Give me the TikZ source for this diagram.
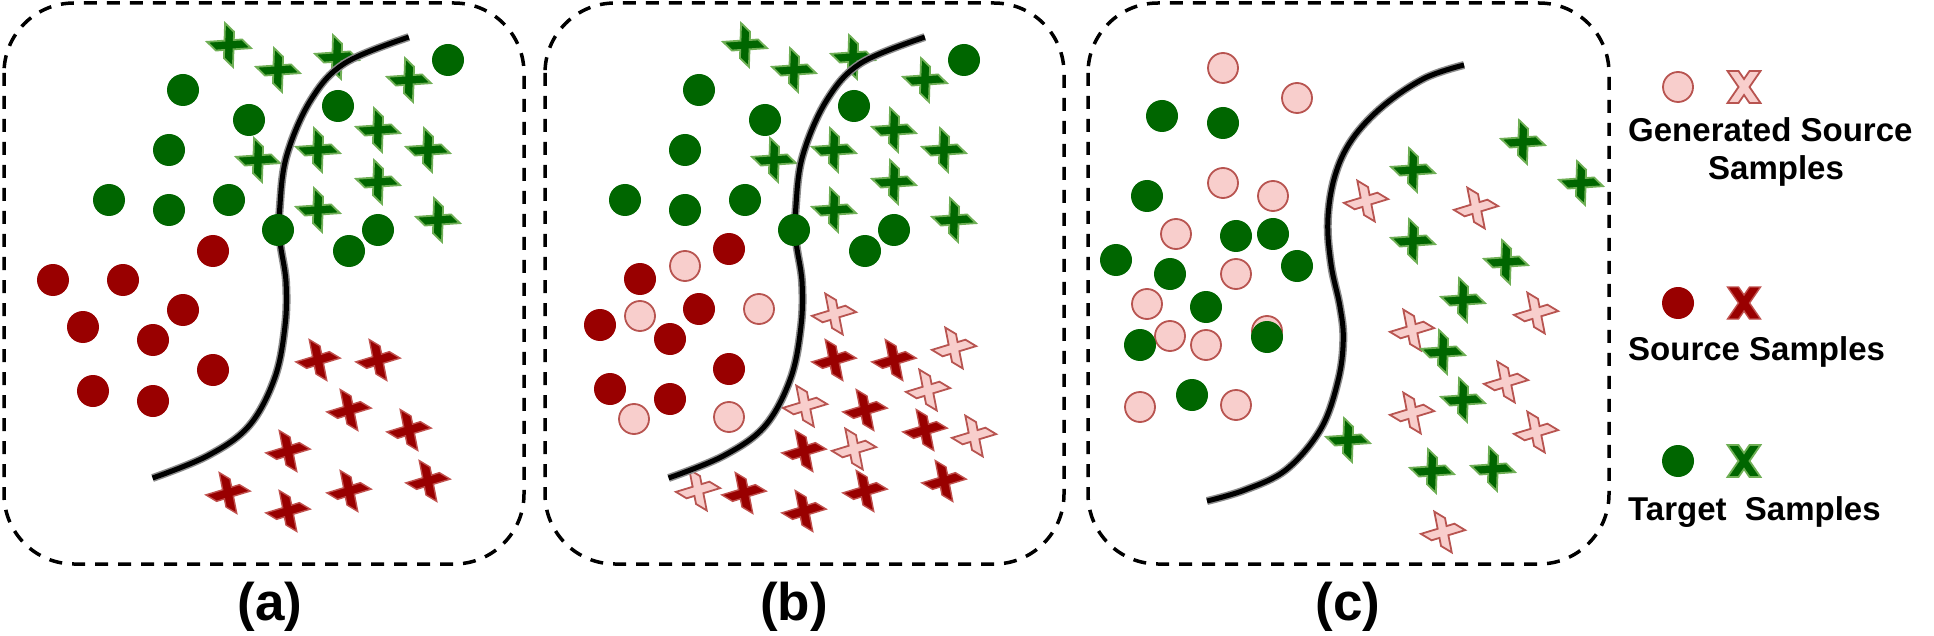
\documentclass[tikz,border=0pt]{standalone}
\usepackage{fontspec}
\setmainfont{Liberation Sans}
\definecolor{tgreen}{HTML}{006600}
\definecolor{tgreenedge}{HTML}{6FAF55}
\definecolor{sred}{HTML}{990000}
\definecolor{sredge}{HTML}{C0504D}
\definecolor{gpink}{HTML}{F8CECC}
\definecolor{gpinkedge}{HTML}{B85450}
\definecolor{halo}{HTML}{8C8C8C}
\tikzset{
  xmark/.pic={\path[pic actions] (-18,-13) -- (-5.5,-13) -- (0,-6.9) -- (5.5,-13) -- (18,-13) -- (6.25,0) -- (18,13) -- (5.5,13) -- (0,6.9) -- (-5.5,13) -- (-18,13) -- (-6.25,0) -- cycle;},
  xlegend/.pic={\path[pic actions] (-16.5,-16) -- (-5.5,-16) -- (0,-8) -- (5.5,-16) -- (16.5,-16) -- (5.5,0) -- (16.5,16) -- (5.5,16) -- (0,8) -- (-5.5,16) -- (-16.5,16) -- (-5.5,0) -- cycle;},
}
\begin{document}
\begin{tikzpicture}[x=1pt,y=-1pt,
  dot/.style={circle, minimum size=32pt, inner sep=0pt},
  tdot/.style={dot, fill=tgreen},
  sdot/.style={dot, fill=sred},
  gdot/.style={dot, minimum size=30pt, fill=gpink, draw=gpinkedge, line width=1.8pt},
  tx/.style={fill=tgreen, draw=tgreenedge, line width=1.8pt, line join=miter},
  sx/.style={fill=sred, draw=sredge, line width=1.4pt, line join=miter},
  gx/.style={fill=gpink, draw=gpinkedge, line width=1.8pt, line join=miter},
  frame/.style={draw=black, line width=3.5pt, dash pattern=on 13pt off 10pt, rounded corners=70pt},
  boundary/.style={line cap=butt},
  panellabel/.style={font=\fontsize{53}{60}\selectfont\bfseries, anchor=base, inner sep=0pt},
  legtext/.style={font=\fontsize{33}{38}\selectfont\bfseries, inner sep=0pt},
]
\useasboundingbox (0,0) rectangle (1934,636);
\fill[white] (0,0) rectangle (1934,636);

% frames
\draw[frame] (4,3) rectangle (524,564);
\draw[frame] (545,3) rectangle (1064,564);
\draw[frame] (1088,3) rectangle (1609,564);

% ---------- panels (a) and (b): shared target / source layout ----------
\foreach \shift/\pre in {0/a,516/b}{
\begin{scope}[xshift=\shift pt]
  \foreach \p [count=\i] in {(318,360),(378,360),(349,410),(409,430),(288,451),(428,481),(228,493),(288,511),(349,491)}
    \pic[sx, rotate=-31] (sx\pre\i) at \p {xmark};
  \foreach \p [count=\i] in {(229,45),(278,70),(337,57),(409,80),(378,130),(318,150),(258,160),(428,150),(378,182),(318,210),(438,220)}
    \pic[tx, rotate=-44] (tx\pre\i) at \p {xmark};
\end{scope}
}
% generated source crosses in (b)
\foreach \p [count=\i] in {(834,314),(954,348),(928,390),(805,406),(854,449),(974,436),(698,490)}
  \pic[gx, rotate=-31] (gxb\i) at \p {xmark};

% boundaries (a), (b)
\foreach \shift in {0,516}{
\begin{scope}[xshift=\shift pt]
  \draw[halo, line width=8pt, boundary] plot[smooth, tension=0.6] coordinates {(408.8,37.1) (345.1,63) (310.8,100) (286.7,155.6) (279.8,207.5) (280,240.9) (286,281.6) (285,326) (274.7,378) (248.9,426) (207.6,455.8) (152.6,478)};
  \draw[black, line width=5pt, boundary] plot[smooth, tension=0.6] coordinates {(408.8,37.1) (345.1,63) (310.8,100) (286.7,155.6) (279.8,207.5) (280,240.9) (286,281.6) (285,326) (274.7,378) (248.9,426) (207.6,455.8) (152.6,478)};
\end{scope}
}

% circles (a)
\foreach \p [count=\i] in {(213,251),(53,280),(123,280),(183,310),(83,327),(153,340),(213,370),(93,391),(153,401)}
  \node[sdot] (sda\i) at \p {};
% circles (b)
\foreach \p [count=\i] in {(685,266),(640,316),(759,309),(634,419),(729,417)}
  \node[gdot] (gdb\i) at \p {};
\foreach \p [count=\i] in {(729,249),(640,279),(699,309),(600,325),(670,339),(729,369),(610,389),(670,399)}
  \node[sdot] (sdb\i) at \p {};
\foreach \shift/\pre in {0/a,516/b}{
\begin{scope}[xshift=\shift pt]
  \foreach \p [count=\i] in {(183,90),(249,120),(169,150),(109,200),(169,210),(229,200),(278,230),(448,60),(338,106),(378,230),(349,251)}
    \node[tdot] (td\pre\i) at \p {};
\end{scope}
}

% ---------- panel (c) ----------
\foreach \p [count=\i] in {(1366,201),(1476,208),(1536,313),(1412,330),(1506,382),(1412,413),(1536,432),(1443,532)}
  \pic[gx, rotate=-31] (gxc\i) at \p {xmark};
\foreach \p [count=\i] in {(1413,170),(1523,142),(1581,183),(1413,241),(1506,262),(1463,300),(1443,352),(1463,400),(1348,440),(1432,471),(1493,469)}
  \pic[tx, rotate=-44] (txc\i) at \p {xmark};
\draw[halo, line width=8pt, boundary] plot[smooth, tension=0.6] coordinates {(1464,65) (1424.4,78.3) (1383,106.1) (1351.9,139.5) (1334.7,176.5) (1327.8,221) (1331.2,265.5) (1339.9,306.3) (1343.3,339.7) (1338.1,380.5) (1320.9,428.7) (1286.4,469.5) (1245,489.9) (1207,501)};
\draw[black, line width=5pt, boundary] plot[smooth, tension=0.6] coordinates {(1464,65) (1424.4,78.3) (1383,106.1) (1351.9,139.5) (1334.7,176.5) (1327.8,221) (1331.2,265.5) (1339.9,306.3) (1343.3,339.7) (1338.1,380.5) (1320.9,428.7) (1286.4,469.5) (1245,489.9) (1207,501)};
\foreach \p [count=\i] in {(1223,68),(1297,98),(1223,183),(1273,196),(1176,234),(1236,274),(1147,304),(1170,336),(1206,345),(1140,407),(1236,405),(1267,331)}
  \node[gdot] (gdc\i) at \p {};
\foreach \p [count=\i] in {(1162,116),(1223,123),(1147,196),(1236,236),(1273,234),(1116,260),(1170,274),(1297,266),(1206,307),(1140,345),(1267,337),(1192,395)}
  \node[tdot] (tdc\i) at \p {};

% ---------- panel labels ----------
\node[panellabel] (la) at (270,620) {(a)};
\node[panellabel] (lb) at (794,620) {(b)};
\node[panellabel] (lc) at (1348,620) {(c)};

% ---------- legend ----------
\node[gdot] (lg1) at (1678,87) {};
\pic[gx] (lgx) at (1744,87) {xlegend};
\node[legtext, anchor=base west] (lgt1) at (1628,142) {Generated Source};
\node[legtext, anchor=base] (lgt2) at (1776,180) {Samples};

\node[sdot] (ls1) at (1678,303) {};
\pic[sx] (lsx) at (1744,303) {xlegend};
\node[legtext, anchor=base west] (lst) at (1628,360) {Source Samples};

\node[tdot] (lt1) at (1678,461) {};
\pic[tx] (ltx) at (1744,461) {xlegend};
\node[legtext, anchor=base west] (ltt) at (1628,520) {Target~~Samples};
\end{tikzpicture}
\end{document}
